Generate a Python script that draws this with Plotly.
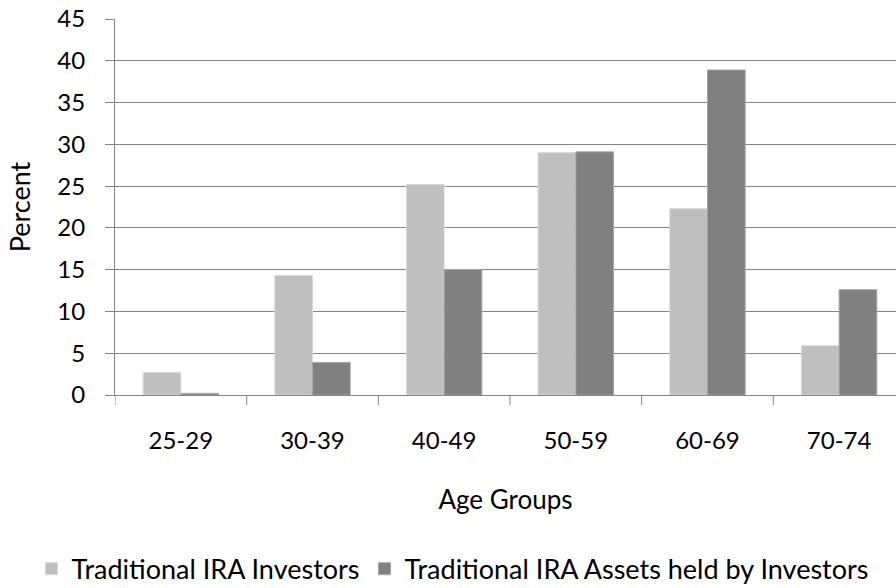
import plotly.graph_objects as go

# Share of traditional IRA investors and assets by age group
age_groups = ["25-29", "30-39", "40-49", "50-59", "60-69", "70-74"]
investors = [2.7, 14.3, 25.2, 29.0, 22.3, 5.9]
assets = [0.2, 3.9, 15.0, 29.1, 38.9, 12.6]
y_ticks = [0, 5, 10, 15, 20, 25, 30, 35, 40, 45]

FONT = "Lato"
GRID = "#868686"

fig = go.Figure()
fig.add_trace(go.Bar(
    x=age_groups, y=investors, name="Traditional IRA Investors",
    marker=dict(color="#bfbfbf", line=dict(color="#d9d9d9", width=1)),
))
fig.add_trace(go.Bar(
    x=age_groups, y=assets, name="Traditional IRA Assets held by Investors",
    marker=dict(color="#808080", line=dict(color="#a6a6a6", width=1)),
))

fig.update_layout(
    width=896, height=588,
    margin=dict(l=115, r=0, t=19, b=193, autoexpand=False),
    paper_bgcolor="white", plot_bgcolor="white",
    font=dict(family=FONT, size=24, color="black"),
    barmode="group", bargap=0.427, bargroupgap=0,
    showlegend=True,
    legend=dict(orientation="h", x=-0.107, xanchor="left", y=-0.398, yanchor="top",
                font=dict(size=27), itemwidth=30, traceorder="normal",
                tracegroupgap=0),
    xaxis=dict(
        range=[-0.5, 5.432], automargin=False,
        showline=True, linecolor=GRID, linewidth=1,
        ticks="", showgrid=False,
        tickfont=dict(size=24), ticklabelstandoff=24,
        title=dict(text="Age Groups", font=dict(size=26), standoff=38),
    ),
    yaxis=dict(
        range=[0, 45], tickvals=y_ticks, automargin=False,
        showgrid=True, gridcolor=GRID, gridwidth=1,
        showline=True, linecolor=GRID, linewidth=1,
        ticks="outside", ticklen=9, tickcolor=GRID,
        tickfont=dict(size=24), ticklabelstandoff=15, zeroline=False,
        title=dict(text="Percent", font=dict(size=27), standoff=18),
    ),
)

# Category divider ticks below the x axis
for i in range(len(age_groups) + 1):
    fig.add_shape(type="line", xref="x", yref="paper",
                  x0=i - 0.5, x1=i - 0.5, y0=0, y1=-0.027,
                  line=dict(color=GRID, width=1))

fig.write_html("out.html")
